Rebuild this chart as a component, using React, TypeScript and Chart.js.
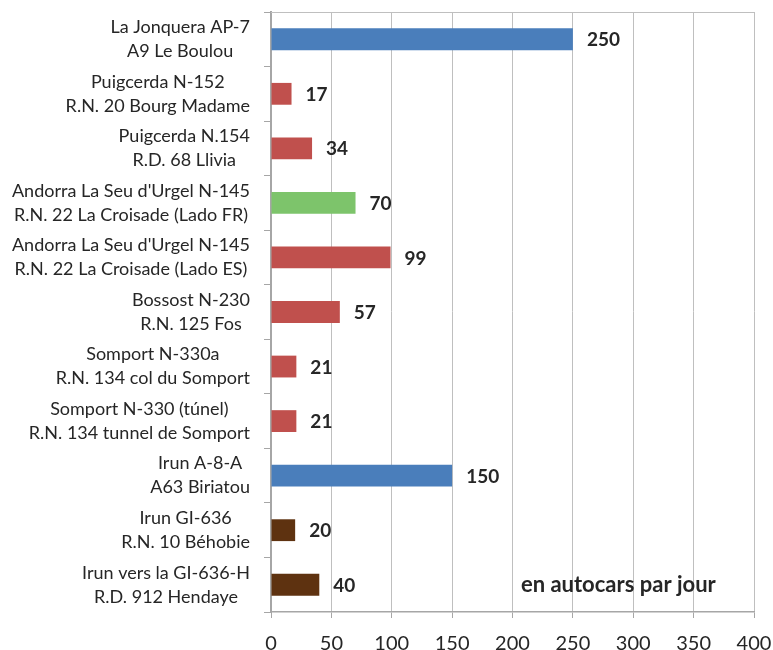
import React, { useEffect, useRef } from "react";
import { Chart, registerables } from "chart.js";

Chart.register(...registerables);

const categoryLine1: string[] = [
  "La Jonquera AP-7",
  "Puigcerda N-152",
  "Puigcerda N.154",
  "Andorra La Seu d'Urgel N-145",
  "Andorra La Seu d'Urgel N-145",
  "Bossost N-230",
  "Somport N-330a",
  "Somport N-330 (túnel)",
  "Irun A-8-A",
  "Irun GI-636",
  "Irun vers la GI-636-H",
];
const categoryLine2: string[] = [
  "A9 Le Boulou",
  "R.N. 20 Bourg Madame",
  "R.D. 68 Llivia",
  "R.N. 22 La Croisade (Lado FR)",
  "R.N. 22 La Croisade (Lado ES)",
  "R.N. 125 Fos",
  "R.N. 134 col du Somport",
  "R.N. 134 tunnel de Somport",
  "A63 Biriatou",
  "R.N. 10 Béhobie",
  "R.D. 912 Hendaye",
];
const values: number[] = [250, 17, 34, 70, 99, 57, 21, 21, 150, 20, 40];
const barColors: string[] = [
  "#4A7EBB",
  "#C0504D",
  "#C0504D",
  "#7DC46B",
  "#C0504D",
  "#C0504D",
  "#C0504D",
  "#C0504D",
  "#4A7EBB",
  "#5E3210",
  "#5E3210",
];
const xTicks: number[] = [0, 50, 100, 150, 200, 250, 300, 350, 400];
const unitNote = "en autocars par jour";

const FONT = "Lato, 'Open Sans', sans-serif";
const TEXT = "#262626";

export default function App() {
  const canvasRef = useRef<HTMLCanvasElement | null>(null);

  useEffect(() => {
    if (!canvasRef.current) return;
    const labels = categoryLine1.map((l, i) => [l, categoryLine2[i]]);

    const customDraw = {
      id: "customDraw",
      afterDatasetsDraw(chart: any) {
        const ctx = chart.ctx;
        const area = chart.chartArea;
        ctx.save();
        // top border
        ctx.strokeStyle = "#BFBFBF";
        ctx.lineWidth = 1;
        ctx.beginPath();
        ctx.moveTo(area.left, area.top + 0.5);
        ctx.lineTo(area.right, area.top + 0.5);
        ctx.stroke();

        // value labels
        const meta = chart.getDatasetMeta(0);
        ctx.font = `bold 19px ${FONT}`;
        ctx.fillStyle = TEXT;
        ctx.textAlign = "left";
        ctx.textBaseline = "middle";
        meta.data.forEach((bar: any, i: number) => {
          ctx.fillText(String(values[i]), bar.x + 14, bar.y + 1);
        });

        // category labels: block right-aligned, lines centered
        const yScale = chart.scales.y;
        ctx.font = `18px ${FONT}`;
        ctx.textAlign = "center";
        ctx.textBaseline = "middle";
        const rightEdge = area.left - 21;
        labels.forEach((lines, i) => {
          const cy = yScale.getPixelForValue(i);
          const w = Math.max(...lines.map((s) => ctx.measureText(s).width));
          const cx = rightEdge - w / 2;
          ctx.fillText(lines[0], cx, cy - 12);
          ctx.fillText(lines[1], cx, cy + 12);
        });

        // unit note
        const last = meta.data[meta.data.length - 1];
        ctx.font = `bold 22px ${FONT}`;
        ctx.textAlign = "left";
        ctx.fillText(unitNote, chart.scales.x.getPixelForValue(207), last.y);
        ctx.restore();
      },
    };

    const chart = new Chart(canvasRef.current, {
      type: "bar",
      data: {
        labels,
        datasets: [
          {
            data: values,
            backgroundColor: barColors,
            borderWidth: 0,
            barPercentage: 0.4,
            categoryPercentage: 1,
          },
        ],
      },
      options: {
        indexAxis: "y",
        animation: false,
        responsive: true,
        maintainAspectRatio: false,
        layout: { padding: { top: 12, right: 19, left: 0, bottom: 0 } },
        plugins: {
          legend: { display: false },
          tooltip: { enabled: false },
        },
        scales: {
          x: {
            min: 0,
            max: 400,
            afterBuildTicks: (scale: any) => {
              scale.ticks = xTicks.map((v) => ({ value: v }));
            },
            afterFit: (scale: any) => {
              scale.height = 38;
              scale.paddingLeft = 0;
              scale.paddingRight = 0;
            },
            grid: {
              color: "#BFBFBF",
              lineWidth: 1,
              drawTicks: true,
              tickLength: 6,
              tickColor: "#A6A6A6",
            },
            border: { color: "#A6A6A6", width: 1.5 },
            ticks: {
              font: { family: FONT, size: 20 },
              color: TEXT,
              padding: 14,
              maxRotation: 0,
            },
          },
          y: {
            afterFit: (scale: any) => {
              scale.width = 271;
              scale.paddingTop = 0;
              scale.paddingBottom = 0;
            },
            grid: {
              drawOnChartArea: false,
              drawTicks: true,
              tickLength: 7,
              tickColor: "#A6A6A6",
              offset: true,
            },
            border: { color: "#A6A6A6", width: 2 },
            ticks: { display: false },
          },
        },
      },
      plugins: [customDraw],
    });
    return () => chart.destroy();
  }, []);

  return (
    <div style={{ position: "fixed", left: 0, top: 0, width: 773, height: 650 }}>
      <canvas ref={canvasRef} />
    </div>
  );
}
